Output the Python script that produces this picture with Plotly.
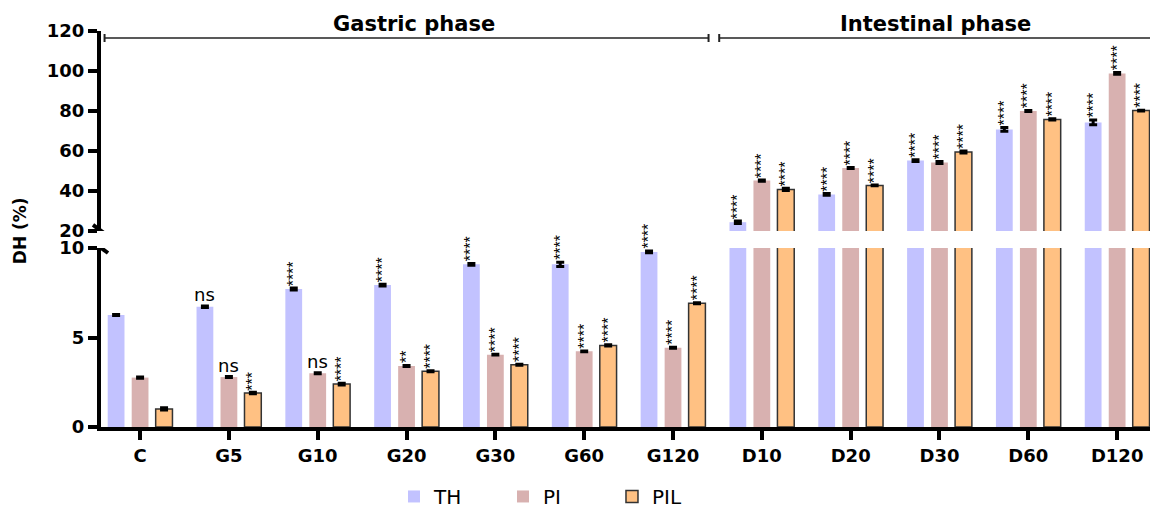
import plotly.graph_objects as go

categories = ["C", "G5", "G10", "G20", "G30", "G60", "G120", "D10", "D20", "D30", "D60", "D120"]
series_names = ["TH", "PI", "PIL"]
TH = [6.26, 6.72, 7.71, 7.93, 9.09, 9.09, 9.78, 24.4, 38.3, 55.2, 70.8, 74.3]
PI = [2.76, 2.79, 3.00, 3.41, 4.04, 4.23, 4.43, 45.2, 51.5, 54.3, 80.0, 98.8]
PIL = [1.01, 1.90, 2.40, 3.11, 3.48, 4.56, 6.91, 40.8, 42.8, 59.5, 75.8, 80.2]
TH_err = [0.03, 0.04, 0.05, 0.05, 0.05, 0.12, 0.05, 0.6, 0.4, 0.4, 0.9, 1.2]
PI_err = [0.04, 0.03, 0.03, 0.03, 0.02, 0.02, 0.03, 0.3, 0.3, 0.5, 0.3, 0.4]
PIL_err = [0.06, 0.04, 0.05, 0.03, 0.03, 0.03, 0.03, 0.6, 0.2, 0.5, 0.3, 0.2]
TH_sig = ["", "ns", "****", "****", "****", "****", "****", "****", "****", "****", "****", "****"]
PI_sig = ["", "ns", "ns", "**", "****", "****", "****", "****", "****", "****", "****", "****"]
PIL_sig = ["", "***", "****", "****", "****", "****", "****", "****", "****", "****", "****", "****"]
lower_ticks = [0, 5, 10]
upper_ticks = [20, 40, 60, 80, 100, 120]
phases = ["Gastric phase", "Intestinal phase"]

colors = ["#C2C2FF", "#D8B1B0", "#FFC183"]
line_colors = ["#C2C2FF", "#D8B1B0", "#333333"]
line_widths = [0, 0, 1.5]
FONT = "DejaVu Sans"

values = [TH, PI, PIL]
errs = [TH_err, PI_err, PIL_err]
sigs = [TH_sig, PI_sig, PIL_sig]
xs = list(range(len(categories)))

fig = go.Figure()
for yax, show in (("y", True), ("y2", False)):
    for i, name in enumerate(series_names):
        fig.add_trace(go.Bar(
            x=xs, y=values[i], name=name, xaxis="x", yaxis=yax,
            showlegend=show, legendgroup=name,
            marker=dict(color=colors[i], line=dict(color=line_colors[i], width=line_widths[i])),
            error_y=dict(type="data", array=errs[i], color="black", thickness=3, width=4),
        ))

offsets = [-0.27, 0.0, 0.27]
annotations = []
for i in range(3):
    for k, cat in enumerate(categories):
        s = sigs[i][k]
        if not s:
            continue
        v = values[i][k] + errs[i][k]
        yref = "y" if v < 10 else "y2"
        if s == "ns":
            annotations.append(dict(x=k + offsets[i], y=v, xref="x", yref=yref, text=s,
                                    showarrow=False, yanchor="bottom", xanchor="center", yshift=-1,
                                    font=dict(family=FONT, size=18, color="black")))
        else:
            annotations.append(dict(x=k + offsets[i], y=v, xref="x", yref=yref, text=s,
                                    textangle=-90, showarrow=False, yanchor="bottom", xanchor="center",
                                    yshift=0, font=dict(family="Liberation Sans", size=16, color="black")))

annotations.append(dict(x=3.08, y=116.5, xref="x", yref="y2", text=phases[0], showarrow=False,
                        yanchor="bottom", yshift=0,
                        font=dict(family=FONT, size=21, color="black", weight="bold")))
annotations.append(dict(x=8.96, y=116.5, xref="x", yref="y2", text=phases[1], showarrow=False,
                        yanchor="bottom", yshift=0,
                        font=dict(family=FONT, size=21, color="black", weight="bold")))
annotations.append(dict(x=-0.077, y=0.495, xref="paper", yref="paper", text="DH (%)", showarrow=False,
                        xanchor="center", yanchor="middle", textangle=-90,
                        font=dict(family=FONT, size=17, color="black", weight="bold")))

shapes = []
bl = dict(color="#222222", width=1.5)
shapes.append(dict(type="line", xref="x", yref="y2", x0=-0.40, x1=6.40, y0=116.5, y1=116.5, line=bl))
shapes.append(dict(type="line", xref="x", yref="y2", x0=6.52, x1=11.5, y0=116.5, y1=116.5, line=bl))
for xv in (-0.40, 6.40, 6.52):
    shapes.append(dict(type="line", xref="x", yref="y2", ysizemode="pixel", yanchor=116.5,
                       x0=xv, x1=xv, y0=-4, y1=4, line=dict(color="#222222", width=2)))
for yref, ya in (("y2", 20), ("y", 10)):
    shapes.append(dict(type="line", xref="paper", yref=yref, xsizemode="pixel", ysizemode="pixel",
                       xanchor=0, yanchor=ya, x0=-8, x1=7, y0=6, y1=-5,
                       line=dict(color="black", width=4)))

axis_common = dict(showline=True, linecolor="black", linewidth=4, ticks="outside", ticklen=9,
                   tickwidth=4, tickcolor="black", showgrid=False, zeroline=False, automargin=False,
                   tickfont=dict(family=FONT, size=18, color="black", weight="bold"))

fig.update_layout(
    width=1152, height=515, autosize=False,
    margin=dict(l=101, r=2, t=31, b=88, autoexpand=False),
    paper_bgcolor="white", plot_bgcolor="white",
    barmode="group", bargap=0.19, bargroupgap=0.30,
    xaxis=dict(range=[-0.44, 11.37], tickvals=xs, ticktext=categories, anchor="y", **axis_common),
    yaxis=dict(domain=[0, 0.452], range=[0, 10], tickvals=lower_ticks, anchor="x", **axis_common),
    yaxis2=dict(domain=[0.495, 1], range=[20, 120], tickvals=upper_ticks, anchor="x", **axis_common),
    legend=dict(orientation="h", xref="container", yref="container", x=0.342, xanchor="left",
                y=0.036, yanchor="middle",
                font=dict(family=FONT, size=20, color="black"), entrywidth=64, traceorder="normal"),
    annotations=annotations,
    shapes=shapes,
)

fig.write_html("out.html")
